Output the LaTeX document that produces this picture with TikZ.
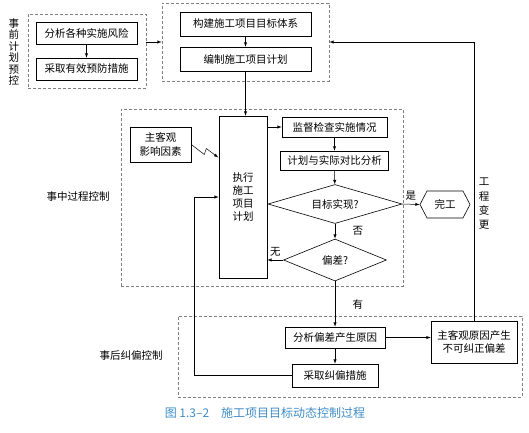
\documentclass[tikz,border=0pt]{standalone}
\usepackage{fontspec}
\usepackage{xcolor}
\usepackage{tikz}
\usetikzlibrary{arrows,calc,positioning,shapes,shapes.geometric,shapes.symbols}
\newfontfamily\cjk{Noto Sans CJK SC}
\definecolor{capblue}{RGB}{62,140,196}
\tikzset{%
	task/.style   = {draw, rectangle, line width=0.6pt, inner sep=1pt, align=center, text centered, font=\cjk\fontsize{10.5}{13.3}\selectfont},
	check/.style  = {draw, diamond, aspect=3, line width=0.6pt, inner sep=0pt, text centered, font=\cjk\fontsize{10.5}{13}\selectfont},
	finish/.style = {draw, signal, signal to=east and west, signal pointer angle=125, line width=0.6pt, inner sep=0pt, text centered, font=\cjk\fontsize{10.5}{13}\selectfont},
	zone/.style   = {draw=gray, dash pattern=on 3pt off 2pt, rectangle, line width=0.7pt, inner sep=0pt},
	tag/.style    = {align=center, font=\cjk\fontsize{10.5}{11.5}\selectfont},
	flow/.style   = {line width=0.5pt, -latex},
}

\begin{document}
\begin{tikzpicture}[x=1pt,y=-1pt]
	\useasboundingbox (0,0) rectangle (529,432);
	\node[zone, minimum width=118, minimum height=74] (preZone) at (87,51) {};
	\node[zone, minimum width=167, minimum height=78] (planZone) at (245.5,42) {};
	\node[zone, minimum width=282, minimum height=177] (midZone) at (262,197.5) {};
	\node[zone, minimum width=344, minimum height=81] (postZone) at (350,356.5) {};
	\node[tag] (preTag) at (14,52) {事\\前\\计\\划\\预\\控};
	\node[tag] (midTag) at (78,197) {事中过程控制};
	\node[tag] (postTag) at (131,355) {事后纠偏控制};
	\node[tag, font=\cjk\fontsize{10.5}{14.3}\selectfont] (changeTag) at (484,204) {工\\程\\变\\更};
	\node[task, minimum width=101, minimum height=22] (risk) at (86.5,33) {分析各种实施风险};
	\node[task, minimum width=101, minimum height=22] (prevent) at (86.5,69) {采取有效预防措施};
	\node[task, minimum width=131, minimum height=24] (goal) at (245.5,24) {构建施工项目目标体系};
	\node[task, minimum width=131, minimum height=24] (plan) at (245.5,59) {编制施工项目计划};
	\node[task, minimum width=61, minimum height=35] (factor) at (160.5,144.5) {主客观\\影响因素};
	\node[task, minimum width=48, minimum height=162] (exec) at (243,197) {执行\\施工\\项目\\计划};
	\node[task, minimum width=105, minimum height=20] (supervise) at (334.5,127) {监督检查实施情况};
	\node[task, minimum width=108, minimum height=19] (compare) at (334.5,160.5) {计划与实际对比分析};
	\node[check, minimum width=134, minimum height=39] (target) at (335,204) {目标实现?};
	\node[check, minimum width=103, minimum height=42] (deviation) at (335,260) {偏差?};
	\node[finish, minimum width=50, minimum height=27] (done) at (445,204.5) {完工};
	\node[task, minimum width=100, minimum height=21] (analyze) at (335,337.5) {分析偏差产生原因};
	\node[task, minimum width=86, minimum height=23] (remedy) at (335,375.5) {采取纠偏措施};
	\node[task, minimum width=86, minimum height=42] (fixless) at (474,342) {主客观原因产生\\不可纠正偏差};
	\node[font=\cjk\fontsize{12}{14}\selectfont, text=capblue] (caption) at (265,413) {图 1.3–2\hspace{1em}施工项目目标动态控制过程};
	\draw[flow] (risk) -- (prevent);
	\draw[flow] (preZone.east |- planZone.west) -- (planZone.west);
	\draw[flow] (goal) -- (plan);
	\draw[flow] (plan.south) -- (plan.south |- exec.north);
	\draw[flow] (factor.east) -- ++(13,10) -- ++(2,-6) -- ++(12,9);
	\draw[flow] (supervise.west -| exec.east) -- (supervise.west);
	\draw[flow] (supervise) -- (compare);
	\draw[flow] (compare) -- (target);
	\draw[flow] (target.east) -- node[tag, above] {是} (done.west);
	\draw[flow] (target.south) -- node[tag, right=14pt] {否} (deviation.north);
	\draw[flow] (deviation.west) -- node[tag, above] {无} (deviation.west -| exec.east);
	\draw[flow] (deviation.south) -- node[tag, right=14pt] {有} (analyze.north);
	\draw[flow] (analyze.east) -- (analyze.east -| fixless.west);
	\draw[flow] (analyze) -- (remedy);
	\draw[flow] (remedy.west) -- ++(-97,0) |- (exec.west);
	\draw[flow] (fixless.north) |- (planZone.east);
\end{tikzpicture}
\end{document}
